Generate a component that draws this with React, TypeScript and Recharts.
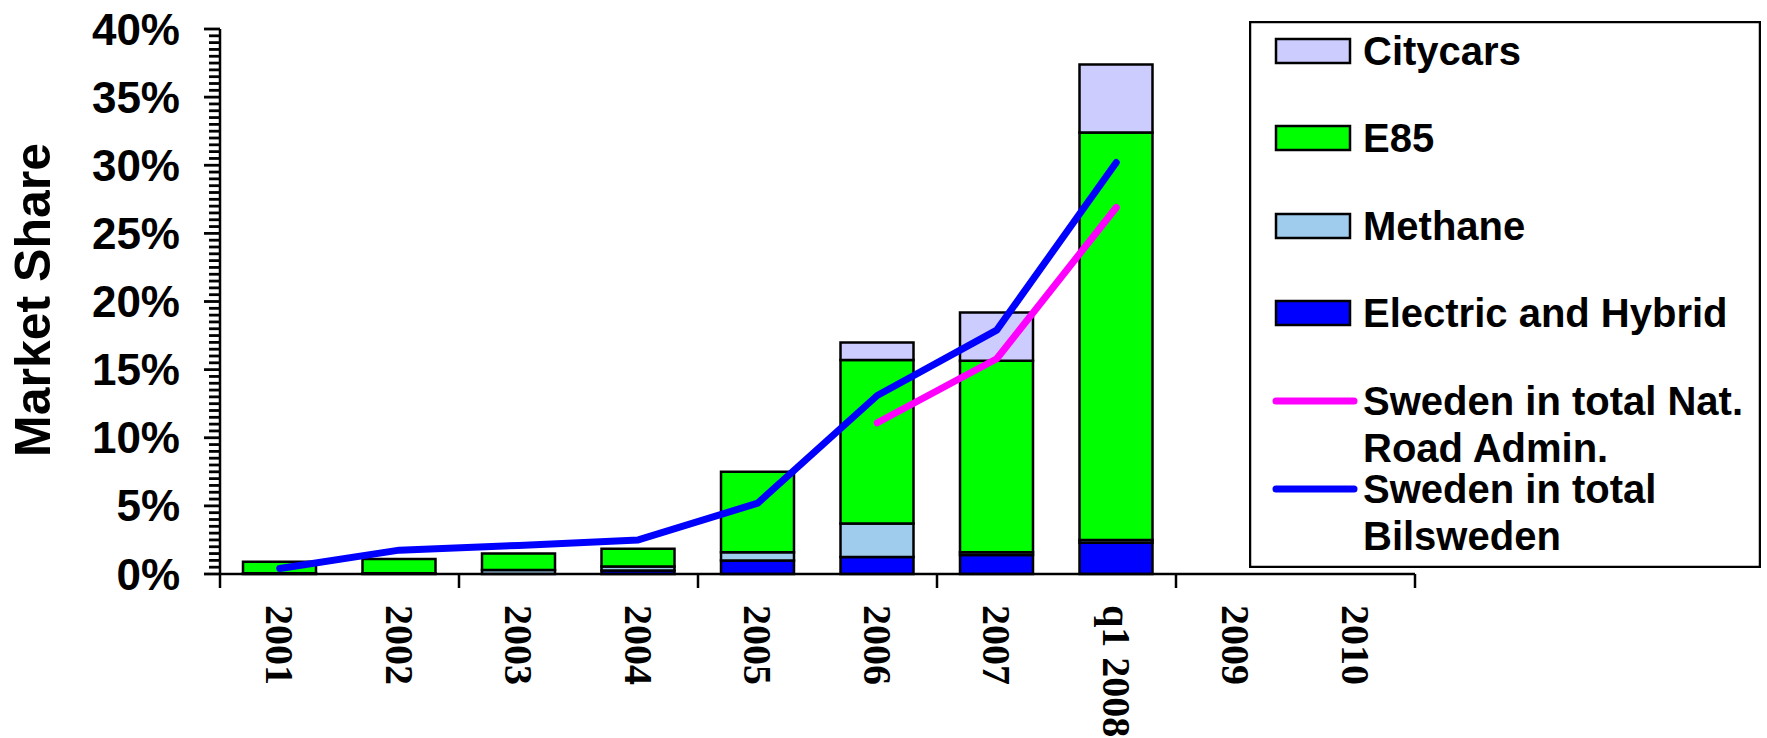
import {
  ComposedChart,
  Bar,
  Line,
  XAxis,
  YAxis,
  Legend,
} from "recharts";

// categories and values (market share, %)
const years = ["2001", "2002", "2003", "2004", "2005", "2006", "2007", "q1 2008", "2009", "2010"];
const electric = [0.05, 0.05, null, 0.25, 1.0, 1.25, 1.4, 2.3, null, null];
const methane = [null, null, 0.3, 0.3, 0.6, 2.45, 0.2, 0.2, null, null];
const e85 = [0.85, 1.05, 1.2, 1.3, 5.9, 12.0, 14.05, 29.9, null, null];
const citycars = [null, null, null, null, null, 1.3, 3.55, 5.0, null, null];
const bilsweden = [0.4, 1.75, 2.1, 2.5, 5.2, 13.1, 17.9, 30.2, null, null];
const roadAdmin = [null, null, null, null, null, 11.1, 15.8, 26.9, null, null];

const majorTicks = [0, 5, 10, 15, 20, 25, 30, 35, 40];

const legendItems = [
  { key: "citycars", kind: "box", color: "#CCCCFF", lines: ["Citycars"] },
  { key: "e85", kind: "box", color: "#00FF00", lines: ["E85"] },
  { key: "methane", kind: "box", color: "#9FCBEC", lines: ["Methane"] },
  { key: "electric", kind: "box", color: "#0000FF", lines: ["Electric and Hybrid"] },
  { key: "roadAdmin", kind: "line", color: "#FF00FF", lines: ["Sweden in total Nat.", "Road Admin."] },
  { key: "bilsweden", kind: "line", color: "#0000FF", lines: ["Sweden in total", "Bilsweden"] },
];

const data = years.map((year, i) => ({
  year,
  electric: electric[i],
  methane: methane[i],
  e85: e85[i],
  citycars: citycars[i],
  bilsweden: bilsweden[i],
  roadAdmin: roadAdmin[i],
}));

const W = 1767;
const H = 738;
const TOP = 29;
const AXIS_X = 220;
const BASE_Y = 574;
const RIGHT = 352;
const BAND = (W - AXIS_X - RIGHT) / years.length;
const Y_MAX = 40;
const SANS = "'Liberation Sans', Arial, sans-serif";
const SERIF = "'Liberation Serif', 'Times New Roman', serif";

// small tick every half percent, labels only on the majors
const allTicks = Array.from({ length: Y_MAX * 2 + 1 }, (_, i) => i / 2);

function YTick(props: any) {
  const { y, payload } = props;
  const v = payload.value as number;
  const major = majorTicks.includes(v);
  return (
    <g>
      <line x1={AXIS_X - (major ? 16 : 11)} x2={AXIS_X} y1={y} y2={y} stroke="#000" strokeWidth={2.8} />
      {major && (
        <text
          x={AXIS_X - 40}
          y={y}
          textAnchor="end"
          dominantBaseline="central"
          fontFamily={SANS}
          fontWeight="bold"
          fontSize={44}
          fill="#000"
        >
          {`${v}%`}
        </text>
      )}
    </g>
  );
}

function XTick(props: any) {
  const { x, payload, index } = props;
  return (
    <g>
      {index % 2 === 0 && (
        <line x1={x - BAND / 2} x2={x - BAND / 2} y1={BASE_Y} y2={BASE_Y + 14} stroke="#000" strokeWidth={2.5} />
      )}
      {index === years.length - 1 && (
        <line x1={x + BAND / 2} x2={x + BAND / 2} y1={BASE_Y} y2={BASE_Y + 14} stroke="#000" strokeWidth={2.5} />
      )}
      <text
        transform={`translate(${x},${BASE_Y + 31}) rotate(90)`}
        textAnchor="start"
        dominantBaseline="central"
        fontFamily={SERIF}
        fontWeight="bold"
        fontSize={40}
        fill="#000"
      >
        {payload.value}
      </text>
    </g>
  );
}

function LegendBox() {
  const rowY = [30, 117, 205, 292, 380, 468];
  return (
    <svg width={512} height={547} style={{ display: "block" }}>
      <rect x={1} y={1} width={510} height={545} fill="#fff" stroke="#000" strokeWidth={2.5} />
      {legendItems.map((item, i) => (
        <g key={item.key}>
          {item.kind === "box" ? (
            <rect x={27} y={rowY[i] - 12} width={74} height={24} fill={item.color} stroke="#000" strokeWidth={2.5} />
          ) : (
            <line x1={27} x2={105} y1={rowY[i]} y2={rowY[i]} stroke={item.color} strokeWidth={7} strokeLinecap="round" />
          )}
          {item.lines.map((t, j) => (
            <text
              key={t}
              x={114}
              y={rowY[i] + j * 47}
              dominantBaseline="central"
              fontFamily={SANS}
              fontWeight="bold"
              fontSize={40}
              fill="#000"
            >
              {t}
            </text>
          ))}
        </g>
      ))}
    </svg>
  );
}

export default function App() {
  return (
    <div style={{ position: "absolute", left: 0, top: 0, width: W, height: H, background: "#fff" }}>
      <ComposedChart
        width={W}
        height={H}
        data={data}
        margin={{ top: TOP, right: RIGHT, bottom: 0, left: 0 }}
        barSize={73}
      >
        <XAxis
          dataKey="year"
          height={H - BASE_Y}
          interval={0}
          tickLine={false}
          axisLine={{ stroke: "#000", strokeWidth: 2.5 }}
          tick={<XTick />}
        />
        <YAxis
          width={AXIS_X}
          domain={[0, Y_MAX]}
          ticks={allTicks}
          interval={0}
          tickLine={false}
          axisLine={{ stroke: "#000", strokeWidth: 2.5 }}
          tick={<YTick />}
          label={{
            content: () => (
              <text
                transform="translate(33,300) rotate(-90)"
                textAnchor="middle"
                dominantBaseline="central"
                fontFamily={SANS}
                fontWeight="bold"
                fontSize={50}
                fill="#000"
              >
                Market Share
              </text>
            ),
          }}
        />
        <Legend
          layout="vertical"
          align="center"
          verticalAlign="middle"
          wrapperStyle={{ left: 1249, top: 21, width: 512, height: 547 }}
          content={() => <LegendBox />}
        />
        <Bar dataKey="electric" stackId="s" fill="#0000FF" stroke="#000" strokeWidth={2.5} isAnimationActive={false} />
        <Bar dataKey="methane" stackId="s" fill="#9FCBEC" stroke="#000" strokeWidth={2.5} isAnimationActive={false} />
        <Bar dataKey="e85" stackId="s" fill="#00FF00" stroke="#000" strokeWidth={2.5} isAnimationActive={false} />
        <Bar dataKey="citycars" stackId="s" fill="#CCCCFF" stroke="#000" strokeWidth={2.5} isAnimationActive={false} />
        <Line
          dataKey="roadAdmin"
          type="linear"
          stroke="#FF00FF"
          strokeWidth={7}
          strokeLinecap="round"
          strokeLinejoin="round"
          dot={false}
          activeDot={false}
          isAnimationActive={false}
        />
        <Line
          dataKey="bilsweden"
          type="linear"
          stroke="#0000FF"
          strokeWidth={7}
          strokeLinecap="round"
          strokeLinejoin="round"
          dot={false}
          activeDot={false}
          isAnimationActive={false}
        />
      </ComposedChart>
    </div>
  );
}
